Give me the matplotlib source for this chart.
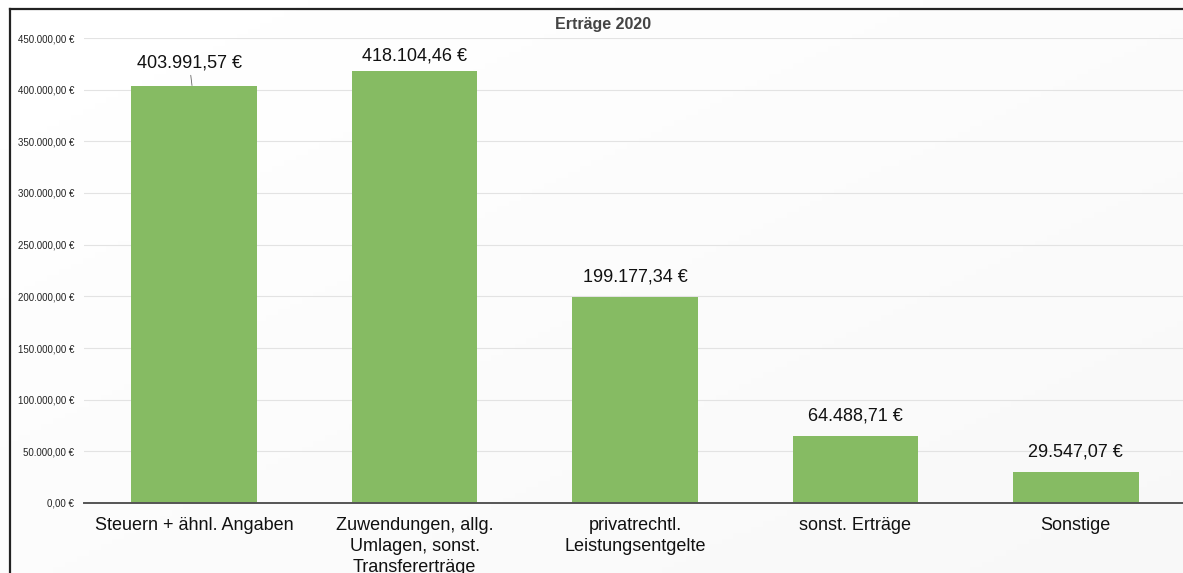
import matplotlib
matplotlib.use("Agg")
import matplotlib.pyplot as plt
import numpy as np
from matplotlib.ticker import FuncFormatter
from matplotlib.lines import Line2D

categories = ["Steuern + ähnl. Angaben", "Zuwendungen, allg.\nUmlagen, sonst.\nTransfererträge",
              "privatrechtl.\nLeistungsentgelte", "sonst. Erträge", "Sonstige"]
values = [403991.57, 418104.46, 199177.34, 64488.71, 29547.07]
value_labels = ["403.991,57 €", "418.104,46 €", "199.177,34 €", "64.488,71 €", "29.547,07 €"]
yticks = [0, 50000, 100000, 150000, 200000, 250000, 300000, 350000, 400000, 450000]
title = "Erträge 2020"

plt.rcParams['font.family'] = ['Liberation Sans', 'DejaVu Sans']

W, H = 1183, 573
fig = plt.figure(figsize=(W/100, H/100), dpi=100)
fig.patch.set_facecolor('white')

# background gradient
bg = fig.add_axes([0, 0, 1, 1], zorder=-10)
xx, yy = np.meshgrid(np.linspace(0, 1, 200), np.linspace(0, 1, 100))
grad = 1.0 - 0.03 * (xx * 0.5 + yy * 0.5)
bg.imshow(grad, cmap='gray', vmin=0, vmax=1, aspect='auto', extent=[0, 1, 0, 1], origin='upper')
bg.set_xlim(0, 1); bg.set_ylim(0, 1)
bg.axis('off')
# border lines
bg.add_line(Line2D([10/W, 10/W], [0, 1 - 9/H], color='#222222', lw=1.6))
bg.add_line(Line2D([10/W, 1], [1 - 9/H, 1 - 9/H], color='#222222', lw=1.6))

left, right = 84/W, 1186/W
bottom, top = 1 - 503/H, 1 - 38/H
ax = fig.add_axes([left, bottom, right - left, top - bottom])
ax.set_facecolor('none')
x = np.arange(len(categories))
ax.bar(x, values, width=0.57, color='#86BB63', zorder=3)
ax.set_xlim(-0.5, 4.5)
ax.set_ylim(0, 450000)
ax.set_yticks(yticks)
ax.yaxis.set_major_formatter(FuncFormatter(
    lambda v, p: f"{v:,.2f}".replace(",", "X").replace(".", ",").replace("X", ".") + " €"))
ax.tick_params(axis='y', length=0, labelsize=7, pad=7, labelcolor='#222222')
ax.grid(axis='y', color='#e3e3e3', lw=0.8, zorder=0)
ax.set_xticks(x)
ax.set_xticklabels(categories, fontsize=13, linespacing=1.32, color='#111111')
ax.tick_params(axis='x', length=0, pad=10)
for s in ['left', 'right', 'top']:
    ax.spines[s].set_visible(False)
ax.spines['bottom'].set_color('#555555')
ax.spines['bottom'].set_linewidth(1.4)
ax.spines['bottom'].set_zorder(4)

for i, (v, lab) in enumerate(zip(values, value_labels)):
    if i == 0:
        ax.annotate(lab, xy=(i - 0.01, v), xytext=(-2, 16.5), textcoords='offset points',
                    ha='center', va='center', fontsize=13, color='#111111',
                    arrowprops=dict(arrowstyle='-', color='#666666', lw=0.6,
                                    shrinkA=1, shrinkB=0))
    elif i == 1:
        ax.annotate(lab, xy=(i, v), xytext=(0, 11), textcoords='offset points',
                    ha='center', va='center', fontsize=13, color='#111111')
    else:
        ax.annotate(lab, xy=(i, v), xytext=(0, 14.5), textcoords='offset points',
                    ha='center', va='center', fontsize=13, color='#111111')

fig.text(603/W, 1 - 25/H, title, ha='center', va='center', fontsize=11.5,
         fontweight='bold', color='#444444')

fig.savefig('out.png', dpi=100)
